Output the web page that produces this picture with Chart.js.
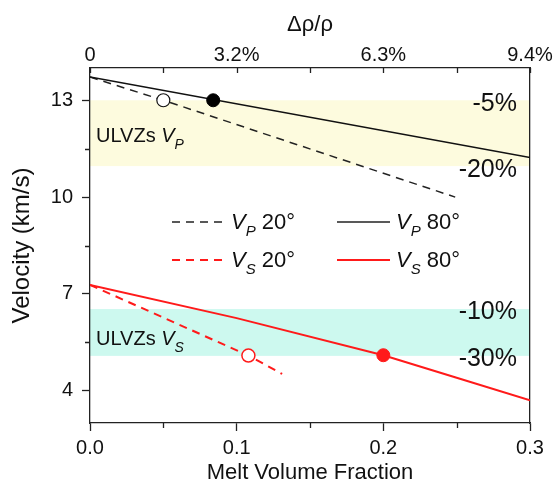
<!DOCTYPE html>
<html>
<head>
<meta charset="utf-8">
<script src="https://cdn.jsdelivr.net/npm/chart.js@4.4.0/dist/chart.umd.min.js"></script>
<style>
html, body { margin: 0; padding: 0; background: #fff; }
#wrap { width: 555px; height: 490px; }
</style>
</head>
<body>
<div id="wrap"><canvas id="chart1"></canvas></div>
<script>
// curves (melt fraction -> velocity km/s)
var vp80X = [0, 0.3];
var vp80Y = [13.72, 11.23];
var vp20X = [0, 0.05, 0.249];
var vp20Y = [13.72, 13.0, 10.0];
var vs80X = [0, 0.1, 0.2, 0.25, 0.3];
var vs80Y = [7.28, 6.25, 5.1, 4.4, 3.7];
var vs20X = [0, 0.108, 0.131];
var vs20Y = [7.28, 5.09, 4.52];

// circles
var vp20Mark = [0.05, 13.0];
var vp80Mark = [0.084, 13.0];
var vs20Mark = [0.108, 5.09];
var vs80Mark = [0.2, 5.1];

// ULVZ ranges
var vpBand = [10.96, 13.0];
var vsBand = [5.08, 6.53];
var vpBandLabels = ['-5%', '-20%'];
var vsBandLabels = ['-10%', '-30%'];

// ticks
var xMajor = [0, 0.1, 0.2, 0.3];
var xMinor = [0.05, 0.15, 0.25];
var topLabels = ['0', '3.2%', '6.3%', '9.4%'];
var yMajor = [4, 7, 10, 13];
var yMinor = [5.5, 8.5, 11.5];

var legendSubs = ['P', 'S', 'P', 'S'];
var legendAngles = [' 20°', ' 20°', ' 80°', ' 80°'];

var RED = '#ff1a1a';
var FONT = '"Liberation Sans", Arial, sans-serif';

function pts(xs, ys) {
    return xs.map(function (x, i) { return {x: x, y: ys[i]}; });
}

function vText(ctx, x, base, sub, rest, size) {
    ctx.font = 'italic ' + size + 'px ' + FONT;
    ctx.fillText('V', x, base);
    x += ctx.measureText('V').width;
    var s = Math.round(size * 0.68);
    ctx.font = 'italic ' + s + 'px ' + FONT;
    ctx.fillText(sub, x, base + size * 0.33);
    x += ctx.measureText(sub).width;
    ctx.font = size + 'px ' + FONT;
    ctx.fillText(rest, x, base);
}

var extras = {
    id: 'extras',
    beforeDraw: function (chart) {
        var ctx = chart.ctx, a = chart.chartArea, y = chart.scales.y;
        ctx.save();
        ctx.fillStyle = '#fdfbde';
        var t = y.getPixelForValue(vpBand[1]), b = y.getPixelForValue(vpBand[0]);
        ctx.fillRect(a.left, t, a.right - a.left, b - t);
        ctx.fillStyle = '#cdf9ef';
        t = y.getPixelForValue(vsBand[1]); b = y.getPixelForValue(vsBand[0]);
        ctx.fillRect(a.left, t, a.right - a.left, b - t);
        ctx.restore();
    },
    afterDraw: function (chart) {
        var ctx = chart.ctx, a = chart.chartArea, x = chart.scales.x, y = chart.scales.y;
        ctx.save();
        // minor ticks and top ticks
        ctx.strokeStyle = '#222';
        ctx.lineWidth = 1.3;
        ctx.beginPath();
        xMinor.forEach(function (v) {
            var px = Math.round(x.getPixelForValue(v)) + 0.5;
            ctx.moveTo(px, a.bottom); ctx.lineTo(px, a.bottom + 5);
        });
        xMajor.concat(xMinor).forEach(function (v) {
            var px = Math.round(x.getPixelForValue(v)) + 0.5;
            ctx.moveTo(px, a.top); ctx.lineTo(px, a.top + 5);
        });
        yMinor.forEach(function (v) {
            var py = Math.round(y.getPixelForValue(v)) + 0.5;
            ctx.moveTo(a.left - 5, py); ctx.lineTo(a.left, py);
        });
        ctx.stroke();

        // legend
        var rows = [222, 260], cols = [172, 337];
        var colors = ['#222', RED, '#222', RED];
        for (var i = 0; i < 4; i++) {
            var cx = cols[Math.floor(i / 2)], cy = rows[i % 2];
            ctx.strokeStyle = colors[i];
            ctx.lineWidth = i % 2 ? 2 : 1.5;
            ctx.setLineDash(i < 2 ? [8, 6] : []);
            ctx.beginPath();
            ctx.moveTo(cx, cy); ctx.lineTo(cx + 53, cy);
            ctx.stroke();
            ctx.setLineDash([]);
            ctx.fillStyle = '#111';
            ctx.textBaseline = 'alphabetic';
            ctx.textAlign = 'left';
            vText(ctx, cx + 59, cy + 7, legendSubs[i], legendAngles[i], 22);
        }

        // band labels
        ctx.fillStyle = '#111';
        ctx.textAlign = 'left';
        ctx.font = '20px ' + FONT;
        var w = ctx.measureText('ULVZs ').width;
        ctx.fillText('ULVZs ', 96, 142);
        vText(ctx, 96 + w, 142, 'P', '', 20);
        ctx.font = '20px ' + FONT;
        ctx.fillText('ULVZs ', 96, 345);
        vText(ctx, 96 + w, 345, 'S', '', 20);

        ctx.font = '25px ' + FONT;
        ctx.textAlign = 'right';
        ctx.textBaseline = 'middle';
        ctx.fillText(vpBandLabels[0], 517, y.getPixelForValue(vpBand[1]) + 4);
        ctx.fillText(vpBandLabels[1], 517, y.getPixelForValue(vpBand[0]) + 4);
        ctx.fillText(vsBandLabels[0], 517, y.getPixelForValue(vsBand[1]) + 3);
        ctx.fillText(vsBandLabels[1], 517, y.getPixelForValue(vsBand[0]) + 3);
        ctx.restore();
    }
};

var tickFont = {family: FONT, size: 20};
var titleFont = {family: FONT, size: 22};

var chart1 = new Chart(document.getElementById('chart1').getContext('2d'), {
    type: 'scatter',
    data: {
        datasets: [
            {data: pts(vp80X, vp80Y), order: 1, showLine: true, borderColor: '#111', borderWidth: 1.5, pointRadius: 0},
            {data: pts(vp20X, vp20Y), order: 1, showLine: true, borderColor: '#222', borderWidth: 1.5, borderDash: [8, 6], pointRadius: 0},
            {data: pts(vs80X, vs80Y), order: 1, showLine: true, borderColor: RED, borderWidth: 2, pointRadius: 0},
            {data: pts(vs20X, vs20Y), order: 1, showLine: true, borderColor: RED, borderWidth: 2, borderDash: [8, 6], pointRadius: 0},
            {data: [{x: vp20Mark[0], y: vp20Mark[1]}], order: 0, pointRadius: 6.5, pointBackgroundColor: '#fff', pointBorderColor: '#111', pointBorderWidth: 1.2},
            {data: [{x: vp80Mark[0], y: vp80Mark[1]}], order: 0, pointRadius: 6.5, pointBackgroundColor: '#000', pointBorderColor: '#000', pointBorderWidth: 1},
            {data: [{x: vs20Mark[0], y: vs20Mark[1]}], order: 0, pointRadius: 6.5, pointBackgroundColor: '#fff', pointBorderColor: RED, pointBorderWidth: 1.5},
            {data: [{x: vs80Mark[0], y: vs80Mark[1]}], order: 0, pointRadius: 6.5, pointBackgroundColor: RED, pointBorderColor: RED, pointBorderWidth: 1}
        ]
    },
    options: {
        responsive: true,
        maintainAspectRatio: false,
        animation: false,
        layout: {padding: 0},
        plugins: {legend: {display: false}, tooltip: {enabled: false}},
        scales: {
            x: {
                type: 'linear', position: 'bottom', min: 0, max: 0.3,
                afterBuildTicks: function (s) { s.ticks = xMajor.map(function (v) { return {value: v}; }); },
                afterFit: function (s) { s.height = 67; },
                ticks: {font: tickFont, color: '#111', padding: 5, maxRotation: 0,
                    callback: function (v) { return v.toFixed(1); }},
                grid: {drawOnChartArea: false, tickLength: 8, tickColor: '#222', tickWidth: 1.3},
                border: {color: '#222', width: 1.3},
                title: {display: true, text: 'Melt Volume Fraction', font: titleFont, color: '#111', padding: {top: 0, bottom: 4}}
            },
            x2: {
                type: 'linear', position: 'top', min: 0, max: 0.3,
                afterBuildTicks: function (s) { s.ticks = xMajor.map(function (v) { return {value: v}; }); },
                afterFit: function (s) { s.height = 68; },
                ticks: {font: tickFont, color: '#111', padding: 1, maxRotation: 0,
                    callback: function (v, i) { return topLabels[i]; }},
                grid: {drawOnChartArea: false, drawTicks: false},
                border: {color: '#222', width: 1.3},
                title: {display: true, text: 'Δρ/ρ', font: titleFont, color: '#111', padding: {top: 12, bottom: 0}}
            },
            y: {
                type: 'linear', position: 'left', min: 3, max: 14,
                afterBuildTicks: function (s) { s.ticks = yMajor.map(function (v) { return {value: v}; }); },
                afterFit: function (s) { s.width = 90; },
                ticks: {font: tickFont, color: '#111', padding: 9},
                grid: {drawOnChartArea: false, tickLength: 8, tickColor: '#222', tickWidth: 1.3},
                border: {color: '#222', width: 1.3},
                title: {display: true, text: 'Velocity (km/s)', font: {family: FONT, size: 24}, color: '#111', padding: {top: 8, bottom: 0}}
            },
            y2: {
                type: 'linear', position: 'right', min: 3, max: 14,
                afterFit: function (s) { s.width = 25; },
                ticks: {display: false},
                grid: {drawOnChartArea: false, drawTicks: false},
                border: {color: '#222', width: 1.3}
            }
        }
    },
    plugins: [extras]
});
</script>
</body>
</html>
